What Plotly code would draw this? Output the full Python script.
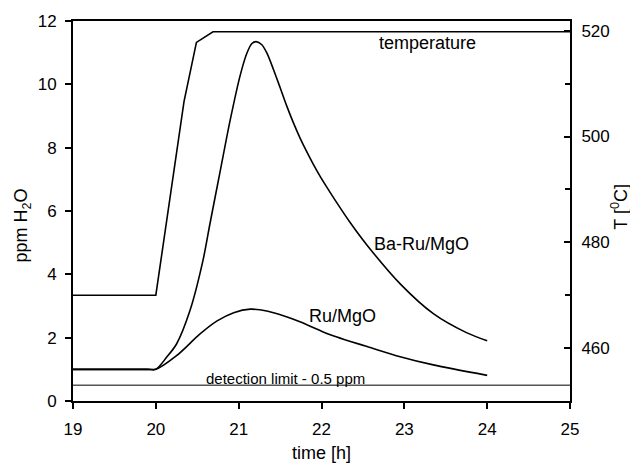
import plotly.graph_objects as go

# Time axis (h) and measured H2O concentrations (ppm)
ba_ru_time = [19.0, 19.9, 20.0, 20.13, 20.25, 20.41, 20.57, 20.65, 20.78, 20.90, 21.02, 21.10,
              21.16, 21.21, 21.28, 21.34, 21.42, 21.50, 21.58, 21.66, 21.74, 21.82, 21.90,
              21.98, 22.06, 22.18, 22.35, 22.55, 22.95, 23.35, 23.75, 24.0]
ba_ru_ppm = [1.0, 1.0, 1.0, 1.38, 1.80, 2.84, 4.45, 5.55, 7.30, 8.90, 10.30, 10.99,
             11.29, 11.35, 11.25, 10.99, 10.47, 9.90, 9.32, 8.79, 8.31, 7.88, 7.48,
             7.11, 6.77, 6.28, 5.62, 4.92, 3.70, 2.76, 2.16, 1.90]

ru_time = [19.0, 19.9, 20.0, 20.25, 20.53, 20.74, 20.94, 21.14, 21.34, 21.54, 21.74,
           22.02, 22.14, 22.35, 22.55, 22.95, 23.35, 24.0]
ru_ppm = [1.0, 1.0, 1.0, 1.43, 2.11, 2.53, 2.79, 2.90, 2.84, 2.69, 2.50,
          2.18, 2.06, 1.88, 1.72, 1.40, 1.14, 0.81]

# Reactor temperature program (deg C)
temp_time = [19.0, 20.0, 20.34, 20.49, 20.69, 25.0]
temp_c = [470.0, 470.0, 506.6, 517.8, 519.8, 519.8]

detection_limit = 0.5
x_ticks = [19, 20, 21, 22, 23, 24, 25]
y_ticks = [0, 2, 4, 6, 8, 10, 12]
t_ticks = [460, 480, 500, 520]
t_minor = [470, 490, 510]

FONT = "Liberation Sans, Arial, Helvetica, sans-serif"
curve_style = dict(color="black", width=1.6, shape="spline", smoothing=0.8)

fig = go.Figure()
fig.add_trace(go.Scatter(x=ba_ru_time, y=ba_ru_ppm, mode="lines", line=curve_style,
                         name="Ba-Ru/MgO"))
fig.add_trace(go.Scatter(x=ru_time, y=ru_ppm, mode="lines", line=curve_style,
                         name="Ru/MgO"))
fig.add_trace(go.Scatter(x=[x_ticks[0], x_ticks[-1]], y=[detection_limit] * 2, mode="lines",
                         line=dict(color="black", width=1), name="detection limit"))
fig.add_trace(go.Scatter(x=temp_time, y=temp_c, mode="lines",
                         line=dict(color="black", width=1.6),
                         yaxis="y2", name="temperature"))

labels = [
    ("temperature", 23.28, 11.3, 18),
    ("Ba-Ru/MgO", 23.21, 4.96, 18),
    ("Ru/MgO", 22.255, 2.69, 18),
    ("detection limit - 0.5 ppm", 21.56, 0.72, 15),
]
annotations = [
    dict(text=t, x=x, y=y, xref="x", yref="y", showarrow=False,
         xanchor="center", yanchor="middle", font=dict(size=s, color="black", family=FONT))
    for t, x, y, s in labels
]
annotations += [
    dict(text="time [h]", x=0.5004, y=-0.1675, xref="paper", yref="paper", showarrow=False,
         xanchor="center", yanchor="bottom", font=dict(size=18, color="black", family=FONT)),
    dict(text="ppm H<sub>2</sub>O", x=-0.1006, y=0.4617, xref="paper", yref="paper",
         showarrow=False, textangle=-90, xanchor="center", yanchor="middle",
         font=dict(size=18, color="black", family=FONT)),
    dict(text="T [<sup>0</sup>C]", x=1.1006, y=0.5114, xref="paper", yref="paper",
         showarrow=False, textangle=-90, xanchor="center", yanchor="middle",
         font=dict(size=18, color="black", family=FONT)),
]

fig.update_layout(
    width=630, height=465,
    margin=dict(l=73, r=60, t=18, b=64),
    paper_bgcolor="white", plot_bgcolor="white",
    showlegend=False,
    font=dict(family=FONT, size=17, color="black"),
    annotations=annotations,
    xaxis=dict(range=[19, 25], tickvals=x_ticks, ticks="outside", ticklen=6, tickwidth=1.5,
               tickcolor="black", showline=True, linecolor="black", linewidth=2, mirror=True,
               showgrid=False, zeroline=False, ticklabelstandoff=6),
    yaxis=dict(range=[0, 12], tickvals=y_ticks, ticks="outside", ticklen=6, tickwidth=1.5,
               tickcolor="black", showline=True, linecolor="black", linewidth=2,
               showgrid=False, zeroline=False, ticklabelstandoff=5),
    yaxis2=dict(range=[450, 521.84], tickvals=t_ticks, overlaying="y", side="right",
                ticks="inside", ticklen=6, tickwidth=1.5, tickcolor="black",
                minor=dict(tickvals=t_minor, ticks="inside", ticklen=5,
                           tickwidth=1.5, tickcolor="black"),
                showline=True, linecolor="black", linewidth=2,
                showgrid=False, zeroline=False, ticklabelstandoff=6),
)

fig.write_html("out.html")
